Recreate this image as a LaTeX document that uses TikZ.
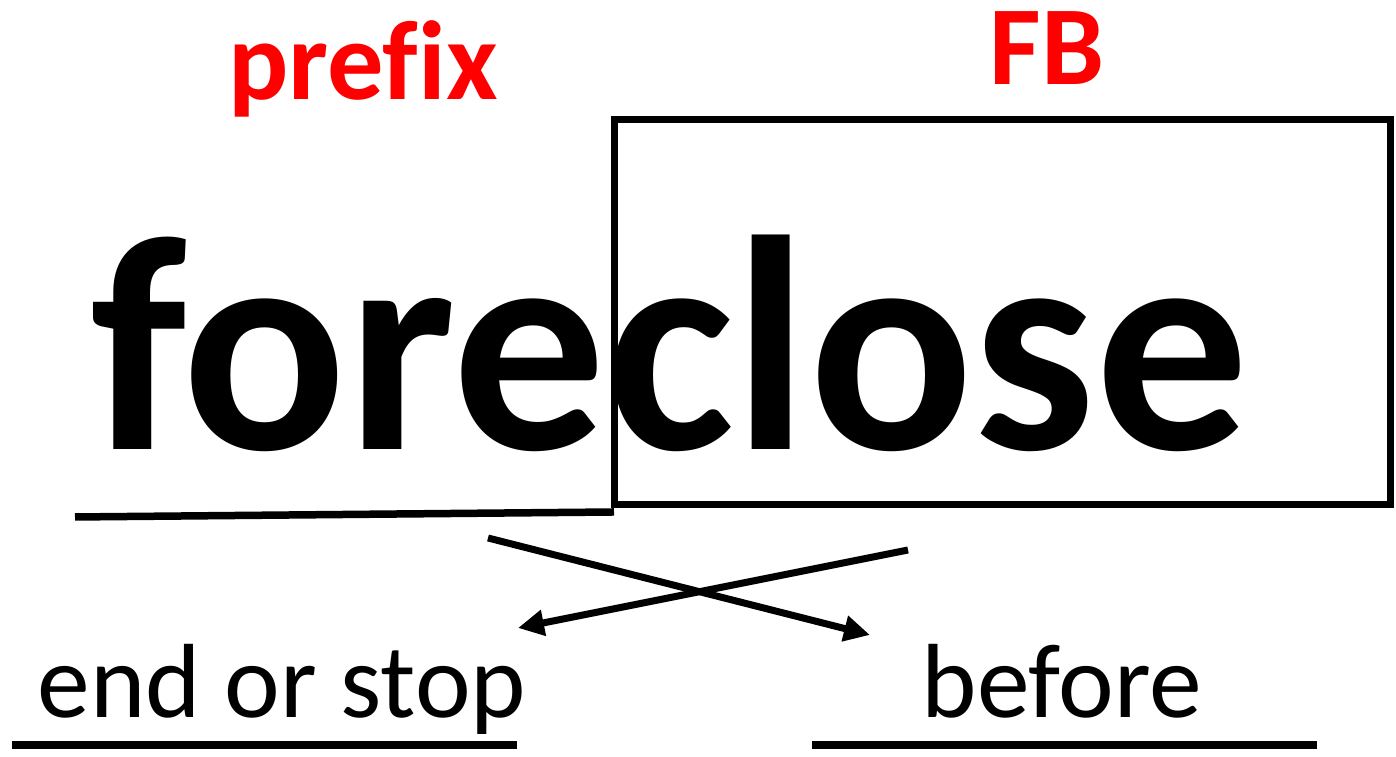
\documentclass[tikz,border=0pt]{standalone}
\usepackage{fontspec}
\setmainfont{Carlito}[Ligatures=NoCommon]
\usepackage{xcolor}
\usepackage{tikz}
\usetikzlibrary{positioning, arrows.meta, calc}

\begin{document}
\begin{tikzpicture}[
    word/.style={inner sep=0pt, anchor=base, font=\fontsize{87}{92}\selectfont\bfseries},
    tag/.style={inner sep=0pt, anchor=base, text=red, font=\fontsize{32}{36}\selectfont\bfseries},
    meaning/.style={inner sep=0pt, anchor=base, font=\fontsize{30}{34}\selectfont},
    rule/.style={line width=0.085cm},
    arr/.style={-{Triangle[length=0.26cm, width=0.25cm]}, line width=0.07cm}
]
\useasboundingbox (0,0) rectangle (13.96,7.57);

% the word and its parts
\node[word] (root) at (6.70, 3.07) {foreclose};
\node[tag] (prefix) at (3.63, 6.57) {prefix};
\node[tag] (fb) at (10.47, 6.72) {FB};

% box round the base, line under the prefix
\coordinate (boxnw) at (6.14, 6.37);
\coordinate (boxse) at (13.90, 2.52);
\draw[line width=0.07cm] (boxnw) rectangle (boxse);
\coordinate (preL) at (0.75, 2.40);
\coordinate (preR) at (6.14, 2.45);
\draw[rule, line width=0.075cm] (preL) -- (preR);

% meanings and their blanks
\node[meaning] (stop) at (2.82, 0.39) {end or stop};
\node[meaning] (before) at (10.62, 0.39) {before};
\coordinate (blankA) at (0.12, 0.12);
\coordinate (blankB) at (8.12, 0.12);
\draw[rule] (blankA) -- ++(5.05, 0);
\draw[rule] (blankB) -- ++(5.05, 0);

% crossing arrows
\coordinate (fromPre) at (4.88, 2.19);
\coordinate (toBefore) at (8.70, 1.22);
\coordinate (fromBase) at (9.08, 2.07);
\coordinate (toStop) at (5.18, 1.29);
\draw[arr] (fromPre) -- (toBefore);
\draw[arr] (fromBase) -- (toStop);

\end{tikzpicture}
\end{document}
